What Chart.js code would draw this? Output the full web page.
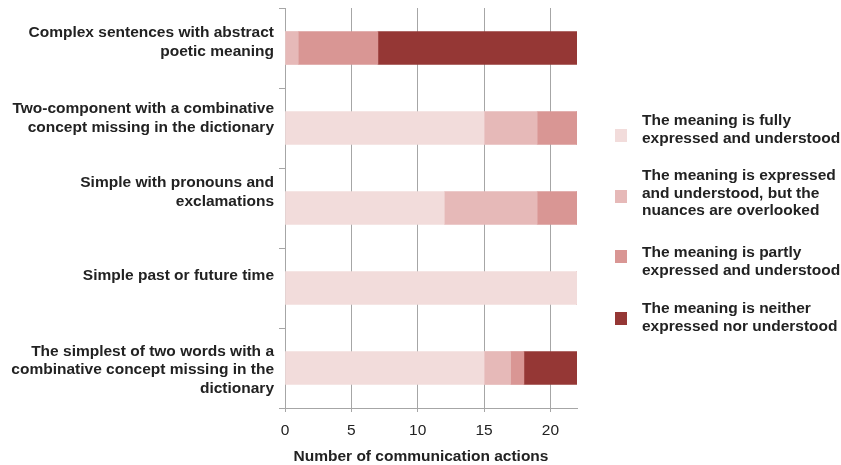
<!DOCTYPE html>
<html>
<head>
<meta charset="utf-8">
<script src="https://cdn.jsdelivr.net/npm/chart.js@4/dist/chart.umd.min.js"></script>
<style>
  html, body { margin: 0; padding: 0; background: #fff; }
  #wrap { position: relative; width: 841px; height: 465px; }
  #legend { position: absolute; left: 615px; top: 0; font: bold 15.5px "Liberation Sans", Arial, sans-serif; color: #222; }
  .item { position: absolute; left: 0; white-space: nowrap; }
  .sw { position: absolute; left: 0; width: 12px; height: 13px; }
  .txt { position: absolute; left: 27px; line-height: 17.5px; }
  #xtitle { position: absolute; top: 447px; left: 0; width: 842px; text-align: center; line-height: 17.5px;
            font: bold 15.5px "Liberation Sans", Arial, sans-serif; color: #222; }
</style>
</head>
<body>
<div id="wrap">
  <canvas id="chart" width="841" height="465"></canvas>
  <div id="legend"></div>
  <div id="xtitle"></div>
</div>
<script>
// Message types, top to bottom
const categories = [
  ["Complex sentences with abstract", "poetic meaning"],
  ["Two-component with a combinative", "concept missing in the dictionary"],
  ["Simple with pronouns and", "exclamations"],
  ["Simple past or future time"],
  ["The simplest of two words with a", "combinative concept missing in the", "dictionary"]
];

// Number of communication actions per outcome
const fullyUnderstood   = [0, 15, 12, 22, 15];
const nuancesOverlooked = [1, 4, 7, 0, 2];
const partlyUnderstood  = [6, 3, 3, 0, 1];
const notUnderstood     = [15, 0, 0, 0, 4];

const seriesLabels = [
  ["The meaning is fully", "expressed and understood"],
  ["The meaning is expressed", "and understood, but the", "nuances are overlooked"],
  ["The meaning is partly", "expressed and understood"],
  ["The meaning is neither", "expressed nor understood"]
];
const seriesColors = ["#F2DCDB", "#E6B9B8", "#D99694", "#953735"];

const xTicks = [0, 5, 10, 15, 20];
const xMax = 22;
const xTitle = "Number of communication actions";

const seriesValues = [fullyUnderstood, nuancesOverlooked, partlyUnderstood, notUnderstood];

const axisGray = "#a6a6a6";
const textColor = "#222";
const fontFamily = "'Liberation Sans', Arial, sans-serif";

// vertical nudge (px) of each category label block
const labelNudge = [-6, -10, -16, -12, 2];

const nudgeCategoryLabels = {
  id: "nudgeCategoryLabels",
  beforeDraw(chart) {
    const scale = chart.scales.y;
    const items = scale.getLabelItems(chart.chartArea);
    if (items._nudged) return;
    items.forEach((it, i) => { it.options.translation[1] += labelNudge[i] || 0; });
    items._nudged = true;
  }
};

new Chart(document.getElementById("chart"), {
  type: "bar",
  data: {
    labels: categories,
    datasets: seriesValues.map((vals, i) => ({
      label: seriesLabels[i].join(" "),
      data: vals,
      backgroundColor: seriesColors[i],
      borderWidth: 0,
      barThickness: 33
    }))
  },
  plugins: [nudgeCategoryLabels],
  options: {
    indexAxis: "y",
    responsive: false,
    animation: false,
    layout: { padding: { top: 8, right: 264, left: 0, bottom: 0 } },
    plugins: { legend: { display: false }, tooltip: { enabled: false } },
    scales: {
      x: {
        stacked: true,
        min: 0,
        max: xMax,
        afterFit: s => { s.height = 57; s.paddingLeft = 0; s.paddingRight = 0; },
        afterBuildTicks: s => { s.ticks = xTicks.map(v => ({ value: v })); },
        ticks: {
          stepSize: 5,
          includeBounds: false,
          padding: 9,
          color: textColor,
          font: { family: fontFamily, size: 15.5, lineHeight: 1.2 }
        },
        grid: { color: axisGray, lineWidth: 1, tickLength: 4, drawOnChartArea: true },
        border: { color: axisGray, width: 1 }
      },
      y: {
        stacked: true,
        afterFit: s => { s.width = 285; s.paddingTop = 0; s.paddingBottom = 0; },
        ticks: {
          padding: 5,
          color: textColor,
          font: { family: fontFamily, size: 15.5, weight: "bold", lineHeight: 1.2 }
        },
        grid: { offset: true, drawOnChartArea: false, tickLength: 6, color: axisGray },
        border: { color: axisGray, width: 1 }
      }
    }
  }
});

// Legend with wrapped labels
const legendTops = [111, 166, 243, 299];
const swatchOffsets = [18, 24, 7, 13];
const legend = document.getElementById("legend");
seriesLabels.forEach((lines, i) => {
  const item = document.createElement("div");
  item.className = "item";
  item.style.top = legendTops[i] + "px";
  const sw = document.createElement("div");
  sw.className = "sw";
  sw.style.background = seriesColors[i];
  sw.style.top = swatchOffsets[i] + "px";
  const txt = document.createElement("div");
  txt.className = "txt";
  txt.innerHTML = lines.join("<br>");
  item.appendChild(sw);
  item.appendChild(txt);
  legend.appendChild(item);
});
document.getElementById("xtitle").textContent = xTitle;
</script>
</body>
</html>
